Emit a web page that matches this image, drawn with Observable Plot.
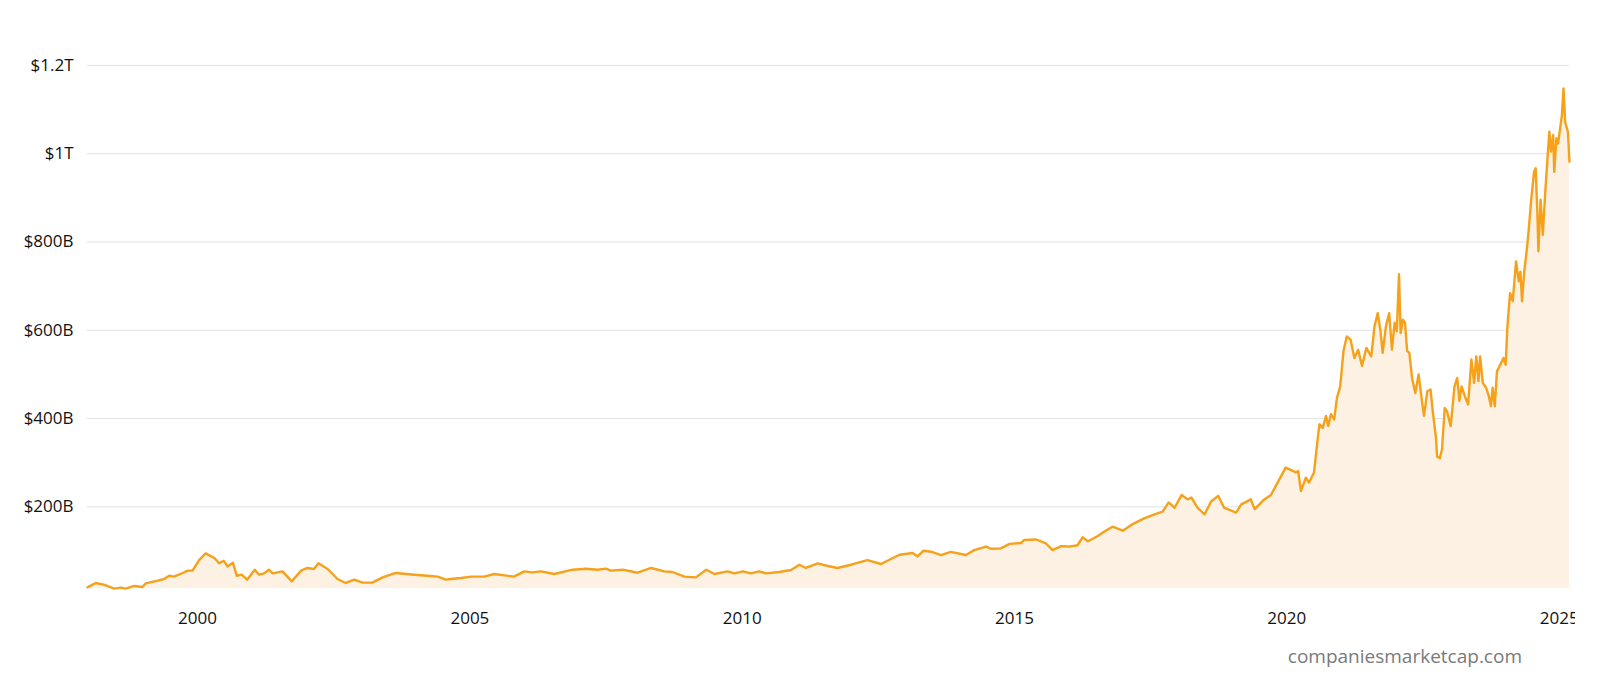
<!DOCTYPE html>
<html>
<head>
<meta charset="utf-8">
<script src="https://cdn.jsdelivr.net/npm/d3@7"></script>
<script src="https://cdn.jsdelivr.net/npm/@observablehq/plot@0.6"></script>
<style>
  html, body { margin: 0; padding: 0; background: #fff; }
  body { width: 1600px; height: 683px; position: relative; overflow: hidden; font-family: "Open Sans", "Noto Sans", sans-serif; }
  #chart { position: absolute; left: 0; top: 0; }
  #chart svg { overflow: hidden !important; }
  #source { position: absolute; right: 78px; top: 643px; font-size: 19px; color: #7a7a7a; font-family: "Open Sans", "Noto Sans", sans-serif; }
</style>
</head>
<body>
<div id="chart"></div>
<div id="source">companiesmarketcap.com</div>
<script>
// Decimal year of each observation
const times = [
  1997.98, 1998.13, 1998.28, 1998.47, 1998.59, 1998.68, 1998.84, 1998.99, 1999.05, 1999.27,
  1999.39, 1999.48, 1999.57, 1999.69, 1999.82, 1999.91, 2000.03, 2000.15, 2000.31, 2000.40,
  2000.48, 2000.55, 2000.65, 2000.72, 2000.81, 2000.91, 2001.05, 2001.13, 2001.22, 2001.31,
  2001.38, 2001.56, 2001.73, 2001.90, 2002.02, 2002.14, 2002.22, 2002.39, 2002.57, 2002.72,
  2002.88, 2003.03, 2003.21, 2003.40, 2003.64, 2003.98, 2004.22, 2004.41, 2004.56, 2004.65,
  2004.84, 2005.02, 2005.26, 2005.45, 2005.81, 2006.00, 2006.15, 2006.31, 2006.55, 2006.89,
  2007.13, 2007.35, 2007.50, 2007.59, 2007.81, 2008.08, 2008.33, 2008.57, 2008.72, 2008.94,
  2009.15, 2009.34, 2009.49, 2009.73, 2009.86, 2010.01, 2010.16, 2010.31, 2010.44, 2010.68,
  2010.90, 2011.05, 2011.17, 2011.39, 2011.57, 2011.75, 2012.00, 2012.30, 2012.55, 2012.73,
  2012.89, 2013.13, 2013.22, 2013.33, 2013.47, 2013.65, 2013.83, 2014.11, 2014.26, 2014.48,
  2014.57, 2014.75, 2014.91, 2015.12, 2015.18, 2015.40, 2015.58, 2015.70, 2015.86, 2016.01,
  2016.16, 2016.25, 2016.35, 2016.53, 2016.65, 2016.80, 2016.99, 2017.17, 2017.38, 2017.57,
  2017.72, 2017.83, 2017.94, 2018.07, 2018.18, 2018.25, 2018.36, 2018.49, 2018.61, 2018.74,
  2018.85, 2019.07, 2019.16, 2019.34, 2019.41, 2019.58, 2019.71, 2019.85, 2019.98, 2020.17,
  2020.21, 2020.26, 2020.35, 2020.41, 2020.50, 2020.57, 2020.60, 2020.66, 2020.72, 2020.76,
  2020.81, 2020.87, 2020.92, 2020.98, 2021.04, 2021.10, 2021.17, 2021.24, 2021.31, 2021.38,
  2021.46, 2021.55, 2021.61, 2021.67, 2021.72, 2021.76, 2021.82, 2021.88, 2021.93, 2021.98,
  2022.02, 2022.06, 2022.09, 2022.13, 2022.17, 2022.21, 2022.25, 2022.30, 2022.36, 2022.42,
  2022.49, 2022.52, 2022.58, 2022.64, 2022.68, 2022.74, 2022.76, 2022.81, 2022.85, 2022.90,
  2022.94, 2023.01, 2023.08, 2023.13, 2023.17, 2023.21, 2023.27, 2023.33, 2023.39, 2023.44,
  2023.48, 2023.52, 2023.55, 2023.60, 2023.66, 2023.71, 2023.75, 2023.78, 2023.82, 2023.86,
  2023.92, 2023.98, 2024.02, 2024.05, 2024.10, 2024.15, 2024.21, 2024.26, 2024.29, 2024.32,
  2024.36, 2024.41, 2024.44, 2024.49, 2024.54, 2024.57, 2024.60, 2024.62, 2024.66, 2024.70,
  2024.75, 2024.79, 2024.82, 2024.85, 2024.89, 2024.91, 2024.95, 2024.98, 2025.01, 2025.05,
  2025.08, 2025.11, 2025.16, 2025.19
];
// Market cap in billions of USD
const capB = [
  17.6, 27.5, 23.7, 14.7, 17, 14.7, 20.8, 18.5, 26.7, 32.8,
  36.6, 44, 41.8, 47.9, 55.4, 55.4, 79.5, 94.5, 84, 72,
  78, 65, 73.4, 44, 46.3, 35, 57.6, 46.3, 49.3, 57.6,
  49.3, 53.8, 31.2, 55.4, 61.5, 59.2, 72, 59.2, 36.6, 27.5,
  35, 28.2, 28.2, 40.2, 50.2, 46.3, 44, 41.8, 35, 36.6,
  38.9, 41.8, 41.8, 47.9, 41.8, 53.8, 51.5, 53.8, 47.9, 57.6,
  59.9, 57.6, 59.9, 55.4, 57.6, 50.8, 61.5, 53.8, 52.4, 41.8,
  40.2, 57.6, 47.9, 53.8, 49.3, 53.8, 49.3, 53.8, 49.3, 52.4,
  56.9, 68.9, 61.5, 72, 66, 61.5, 68.9, 79.5, 70.5, 81.8,
  91.5, 95.4, 87.7, 100.6, 98.3, 90.8, 98, 90.8, 102, 110,
  105, 106, 116, 118, 125, 126, 117, 102, 111, 110,
  113, 131, 122, 134, 144, 155, 146, 161, 174, 183,
  189, 210, 198, 227, 217, 221, 198, 183, 212, 225,
  198, 187, 205, 217, 195, 216, 227, 259, 289, 278,
  281, 236, 266, 255, 278, 357, 387, 379, 406, 383,
  410, 398, 447, 473, 553, 586, 579, 537, 556, 519,
  560, 541, 609, 639, 598, 549, 609, 639, 556, 617,
  598, 727, 594, 624, 617, 553, 549, 492, 458, 500,
  432, 406, 462, 466, 417, 356, 314, 310, 330, 424,
  417, 383, 473, 492, 440, 473, 451, 432, 534, 481,
  541, 485, 541, 481, 470, 451, 428, 470, 428, 507,
  522, 537, 522, 605, 684, 666, 756, 711, 733, 666,
  733, 786, 824, 899, 959, 967, 869, 779, 896, 816,
  922, 997, 1050, 1005, 1042, 959, 1035, 1023, 1050, 1087,
  1148, 1072, 1050, 982
];
// Axis ticks
const yTicks = [200e9, 400e9, 600e9, 800e9, 1e12, 1.2e12];
const yTickLabels = ["$200B", "$400B", "$600B", "$800B", "$1T", "$1.2T"];
const xTickYears = [2000, 2005, 2010, 2015, 2020, 2025];

function toDate(t) {
  const y = Math.floor(t);
  const a = Date.UTC(y, 0, 1), b = Date.UTC(y + 1, 0, 1);
  return new Date(a + (t - y) * (b - a));
}
const data = times.map((t, i) => ({date: toDate(t), value: capB[i] * 1e9}));
const yMin = 15e9;
const yMax = 1.2e12;

const chart = Plot.plot({
  width: 1575,
  height: 640,
  marginLeft: 87,
  marginRight: 6,
  marginTop: 65,
  marginBottom: 52,
  style: {fontFamily: "'Open Sans', 'Noto Sans', sans-serif", fontSize: "17px", color: "#111", background: "#fff", overflow: "hidden"},
  x: {
    type: "utc",
    domain: [data[0].date, data[data.length - 1].date],
    ticks: xTickYears.map(y => new Date(Date.UTC(y, 0, 1))),
    tickFormat: d => String(d.getUTCFullYear()),
    tickSize: 0,
    tickPadding: 23,
    label: null
  },
  y: {
    domain: [yMin, yMax],
    ticks: yTicks,
    tickFormat: v => yTickLabels[yTicks.indexOf(v)],
    tickSize: 0,
    tickPadding: 14,
    label: null
  },
  marks: [
    Plot.ruleY(yTicks, {stroke: "#e2e2e2", strokeWidth: 1}),
    Plot.areaY(data, {x: "date", y1: yMin, y2: "value", fill: "#fdf1e3"}),
    Plot.lineY(data, {x: "date", y: "value", stroke: "#f6a11a", strokeWidth: 2.4, strokeLinejoin: "round"})
  ]
});
document.getElementById("chart").appendChild(chart);
</script>
</body>
</html>
